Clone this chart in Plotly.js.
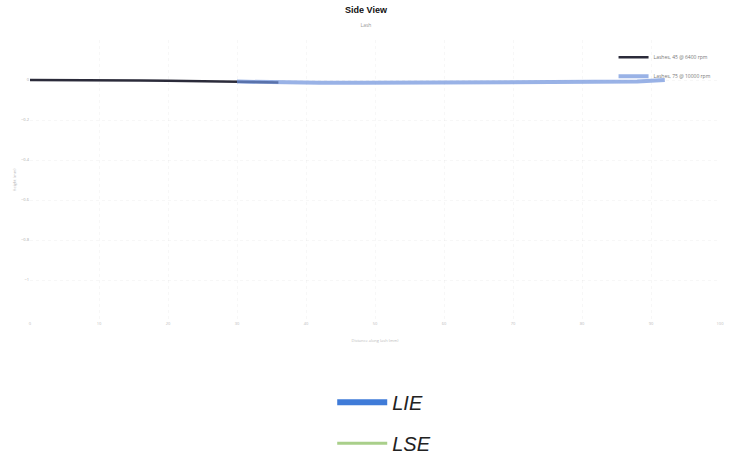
<!DOCTYPE html>
<html>
<head>
<meta charset="utf-8">
<script src="https://cdn.plot.ly/plotly-3.0.1.min.js"></script>
<style>html,body{margin:0;padding:0;background:#fff;}#chart{width:732px;height:460px;}</style>
</head>
<body>
<div id="chart"></div>
<script>
// Data (approximate)
const xDark = [0, 4, 8, 12, 16, 20, 24, 28, 32, 36];
const yDark = [0.0, 0.0, -0.002, -0.001, -0.003, -0.004, -0.006, -0.008, -0.01, -0.012];
const xBlue = [30, 36, 42, 48, 54, 60, 66, 72, 78, 84, 88, 92];
const yBlue = [-0.008, -0.012, -0.014, -0.014, -0.013, -0.012, -0.011, -0.012, -0.013, -0.012, -0.008, 0.0];
const seriesNames = ['Lashes, 45 @ 6400 rpm', 'Lashes, 75 @ 10000 rpm'];
const legendNames = ['LIE', 'LSE'];
const xTicks = [0, 10, 20, 30, 40, 50, 60, 70, 80, 90, 100];
const yTicks = [0, -0.2, -0.4, -0.6, -0.8, -1.0];

const traces = [
  {x: xDark, y: yDark, name: seriesNames[0], mode: 'lines',
   line: {color: '#2b2b3a', width: 2.5}, legend: 'legend'},
  {x: xBlue, y: yBlue, name: seriesNames[1], mode: 'lines',
   line: {color: 'rgba(110,145,220,0.7)', width: 4}, legend: 'legend'},
  {x: xBlue, y: yBlue, name: legendNames[0], mode: 'lines', visible: 'legendonly',
   line: {color: '#3f7bd8', width: 6}, legend: 'legend2', legendgroup: 'g1'},
  {x: xDark, y: yDark, name: legendNames[1], mode: 'lines', visible: 'legendonly',
   line: {color: '#a9cf8a', width: 3}, legend: 'legend2', legendgroup: 'g2'}
];

const layout = {
  width: 732, height: 460,
  paper_bgcolor: '#fff', plot_bgcolor: '#fff',
  margin: {l: 30, r: 12, t: 40, b: 140},
  title: {text: '<b>Side View</b>', x: 0.5, y: 0.985, yanchor: 'top',
          font: {family: 'Liberation Sans, Arial', size: 9, color: '#111'},
          subtitle: {text: 'Lash', font: {size: 5, color: '#999'}}},
  xaxis: {range: [0, 100], tickvals: xTicks, showgrid: true, gridcolor: 'rgba(0,0,0,0.03)',
          griddash: 'dot', zeroline: false, showline: false, ticks: '',
          tickfont: {size: 4, color: '#bbb'},
          title: {text: 'Distance along lash (mm)', font: {size: 4, color: '#bbb'}, standoff: 14}},
  yaxis: {range: [-1.2, 0.2], tickvals: yTicks, showgrid: true, gridcolor: 'rgba(0,0,0,0.03)',
          griddash: 'dot', zeroline: false, showline: false, ticks: '',
          tickfont: {size: 4, color: '#aaa'},
          title: {text: 'Height (mm)', font: {size: 4, color: '#bbb'}, standoff: 4}},
  legend: {x: 0.995, y: 0.99, xanchor: 'right', yanchor: 'top', bgcolor: 'rgba(0,0,0,0)',
           font: {size: 5, color: '#777'}, itemwidth: 30, tracegroupgap: 0},
  legend2: {yref: 'container', x: 0.438, y: 0.168,
            xanchor: 'left', yanchor: 'top', bgcolor: 'rgba(0,0,0,0)',
            font: {family: 'Liberation Sans, Arial', size: 20, color: '#222', style: 'italic'},
            itemwidth: 50, tracegroupgap: 12, itemclick: false, itemdoubleclick: false}
};

Plotly.newPlot('chart', traces, layout, {displayModeBar: false, staticPlot: true}).then(() => {
  document.querySelectorAll('g.legend2 .traces, g[class^="legend2"] .traces').forEach(g => {
    g.style.opacity = 1;
    g.setAttribute('opacity', 1);
  });
});
</script>
</body>
</html>
